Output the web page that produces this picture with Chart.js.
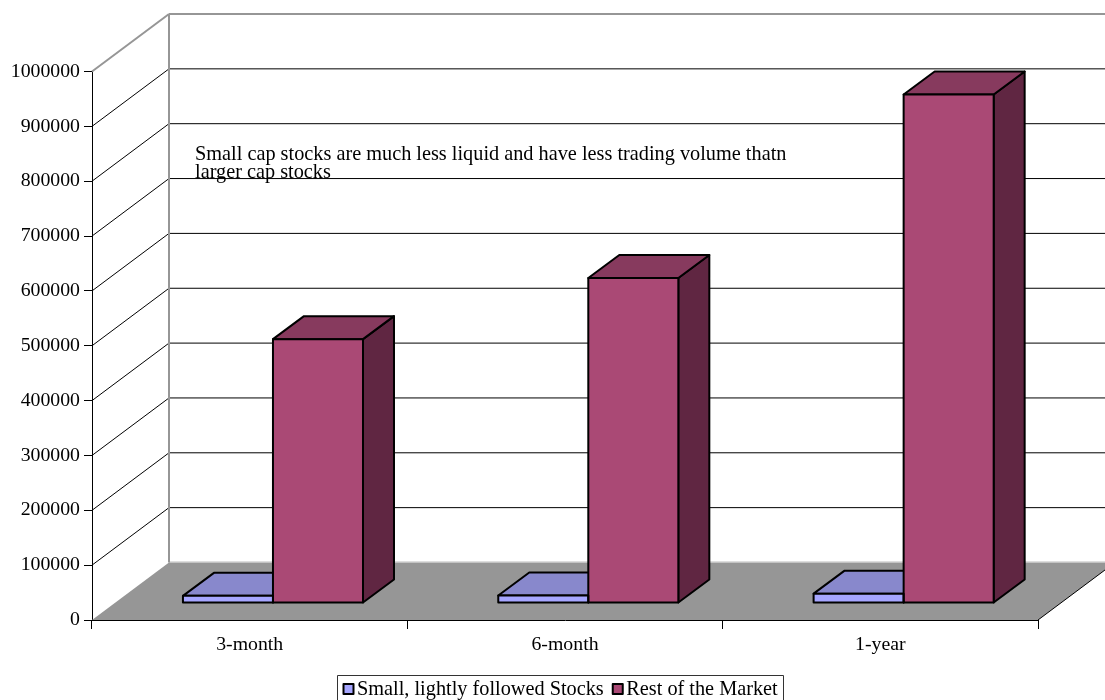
<!DOCTYPE html>
<html>
<head>
<meta charset="utf-8">
<title>Trading volume</title>
<script src="https://cdn.jsdelivr.net/npm/chart.js@4"></script>
<style>
  html, body { margin: 0; padding: 0; background: #fff; overflow: hidden; }
  canvas { display: block; }
</style>
</head>
<body>
<canvas id="volume" width="1105" height="700"></canvas>
<script>
const categories = ['3-month', '6-month', '1-year'];
const smallStocks = [13000, 13700, 17000];
const restOfMarket = [481000, 592500, 927000];
const seriesNames = ['Small, lightly followed Stocks', 'Rest of the Market'];
const noteLines = [
    'Small cap stocks are much less liquid and have less trading volume thatn',
    'larger cap stocks'
];

const yMax = 1000000;
const yStep = 100000;

const SERIF = '"Liberation Serif", "Times New Roman", serif';
const TICK_SIZE = 19.8;
const TEXT_SIZE = 20.3;

// offsets of the pseudo 3d box
const wall = { dx: 77, dy: -57.5 };
const barShift = { dx: 23.3, dy: -17 };
const barDepth = { dx: 31, dy: -23 };

const faces = [
    { front: '#a6a6ff', top: '#8888cc', side: '#6f6fb0' },
    { front: '#aa4975', top: '#873a5e', side: '#602642' }
];

function polygon(ctx, pts, fill, stroke, width) {
    ctx.beginPath();
    pts.forEach((p, i) => i ? ctx.lineTo(p[0], p[1]) : ctx.moveTo(p[0], p[1]));
    ctx.closePath();
    if (fill) {
        ctx.fillStyle = fill;
        ctx.fill();
    }
    if (stroke) {
        ctx.strokeStyle = stroke;
        ctx.lineWidth = width;
        ctx.lineJoin = 'round';
        ctx.stroke();
    }
}

function segment(ctx, x1, y1, x2, y2, color, width) {
    ctx.beginPath();
    ctx.moveTo(x1, y1);
    ctx.lineTo(x2, y2);
    ctx.strokeStyle = color;
    ctx.lineWidth = width;
    ctx.stroke();
}

function drawWalls(chart) {
    const ctx = chart.ctx;
    const area = chart.chartArea;
    const y = chart.scales.y;
    const y0 = y.getPixelForValue(0);

    polygon(ctx, [
        [area.left, y0],
        [area.right, y0],
        [area.right + wall.dx, y0 + wall.dy],
        [area.left + wall.dx, y0 + wall.dy]
    ], '#969696');
    segment(ctx, area.left + wall.dx, y0 + wall.dy - 0.5, chart.width, y0 + wall.dy - 0.5, '#bdbdbd', 1);
    segment(ctx, area.right, y0, area.right + wall.dx, y0 + wall.dy, '#000', 1);

    for (let v = yStep; v < yMax; v += yStep) {
        const py = y.getPixelForValue(v);
        segment(ctx, area.left, py, area.left + wall.dx, py + wall.dy, '#000', 1);
        segment(ctx, area.left + wall.dx, py + wall.dy, chart.width, py + wall.dy, '#000', 1);
    }

    // the top edge and back corner of the box are grey
    const yTop = y.getPixelForValue(yMax);
    segment(ctx, area.left, yTop, area.left + wall.dx, yTop + wall.dy, '#969696', 2);
    segment(ctx, area.left + wall.dx, yTop + wall.dy, chart.width, yTop + wall.dy, '#969696', 2);
    segment(ctx, area.left + wall.dx, yTop + wall.dy, area.left + wall.dx, y0 + wall.dy, '#969696', 2);
}

function barBounds(bar) {
    const p = bar.getProps(['x', 'y', 'base', 'width'], true);
    return {
        l: p.x - p.width / 2 + barShift.dx,
        r: p.x + p.width / 2 + barShift.dx,
        t: p.y + barShift.dy,
        b: p.base + barShift.dy
    };
}

function drawBarDepth(chart) {
    const ctx = chart.ctx;
    chart.data.datasets.forEach((ds, i) => {
        chart.getDatasetMeta(i).data.forEach(bar => {
            const { l, r, t, b } = barBounds(bar);
            polygon(ctx, [
                [r, t], [r + barDepth.dx, t + barDepth.dy],
                [r + barDepth.dx, b + barDepth.dy], [r, b]
            ], faces[i].side, '#000', 2);
            polygon(ctx, [
                [l, t], [l + barDepth.dx, t + barDepth.dy],
                [r + barDepth.dx, t + barDepth.dy], [r, t]
            ], faces[i].top, '#000', 2);
        });
    });
}

// outlines go on after the fills so they sit centred on the bar edges
function drawBarOutlines(chart) {
    const ctx = chart.ctx;
    ctx.strokeStyle = '#000';
    ctx.lineWidth = 2;
    chart.data.datasets.forEach((ds, i) => {
        chart.getDatasetMeta(i).data.forEach(bar => {
            const { l, r, t, b } = barBounds(bar);
            ctx.strokeRect(l, t, r - l, b - t);
        });
    });
}

function drawNote(ctx) {
    ctx.font = TEXT_SIZE + 'px ' + SERIF;
    ctx.fillStyle = '#000';
    ctx.textAlign = 'left';
    ctx.textBaseline = 'alphabetic';
    ctx.fillText(noteLines[0], 195, 159.5);
    ctx.fillText(noteLines[1], 195, 178);
}

function drawLegend(chart) {
    const ctx = chart.ctx;
    ctx.strokeStyle = '#333';
    ctx.lineWidth = 1;
    ctx.strokeRect(337.5, 675.5, 446, 40);

    ctx.font = TEXT_SIZE + 'px ' + SERIF;
    ctx.textAlign = 'left';
    ctx.textBaseline = 'alphabetic';
    let x = 343.5;
    seriesNames.forEach((name, i) => {
        ctx.fillStyle = faces[i].front;
        ctx.strokeStyle = '#000';
        ctx.lineWidth = 2;
        ctx.fillRect(x, 684, 10, 10);
        ctx.strokeRect(x, 684, 10, 10);
        ctx.fillStyle = '#000';
        ctx.fillText(name, x + 13.5, 695);
        x += 13.5 + ctx.measureText(name).width + 9;
    });
}

const box3d = {
    id: 'box3d',
    beforeDatasetsDraw(chart) {
        drawWalls(chart);
        drawBarDepth(chart);
        // the fronts of the bars stand a little way in from the floor edge
        chart.ctx.save();
        chart.ctx.translate(barShift.dx, barShift.dy);
    },
    afterDatasetsDraw(chart) {
        chart.ctx.restore();
        drawBarOutlines(chart);
    },
    afterDraw(chart) {
        drawNote(chart.ctx);
        drawLegend(chart);
    }
};

new Chart(document.getElementById('volume'), {
    type: 'bar',
    data: {
        labels: categories,
        datasets: [
            {
                label: seriesNames[0],
                data: smallStocks,
                backgroundColor: faces[0].front,
                borderWidth: 0,
                clip: false
            },
            {
                label: seriesNames[1],
                data: restOfMarket,
                backgroundColor: faces[1].front,
                borderWidth: 0,
                clip: false
            }
        ]
    },
    options: {
        responsive: false,
        animation: false,
        layout: { padding: { top: 71.5, left: 0, right: 67, bottom: 0 } },
        datasets: { bar: { categoryPercentage: 0.571, barPercentage: 1 } },
        scales: {
            x: {
                afterFit(scale) { scale.height = 80; },
                grid: { drawOnChartArea: false, color: '#000', tickLength: 9 },
                border: { color: '#000', width: 1 },
                ticks: {
                    color: '#000',
                    padding: 4,
                    maxRotation: 0,
                    font: { family: SERIF, size: TICK_SIZE }
                }
            },
            y: {
                min: 0,
                max: yMax,
                afterFit(scale) { scale.width = 92; },
                grid: { drawOnChartArea: false, color: '#000', tickLength: 8 },
                border: { color: '#000', width: 1 },
                ticks: {
                    stepSize: yStep,
                    color: '#000',
                    padding: 4,
                    font: { family: SERIF, size: TICK_SIZE },
                    callback: value => String(value)
                }
            }
        },
        plugins: {
            legend: { display: false },
            tooltip: { enabled: false }
        }
    },
    plugins: [box3d]
});
</script>
</body>
</html>
